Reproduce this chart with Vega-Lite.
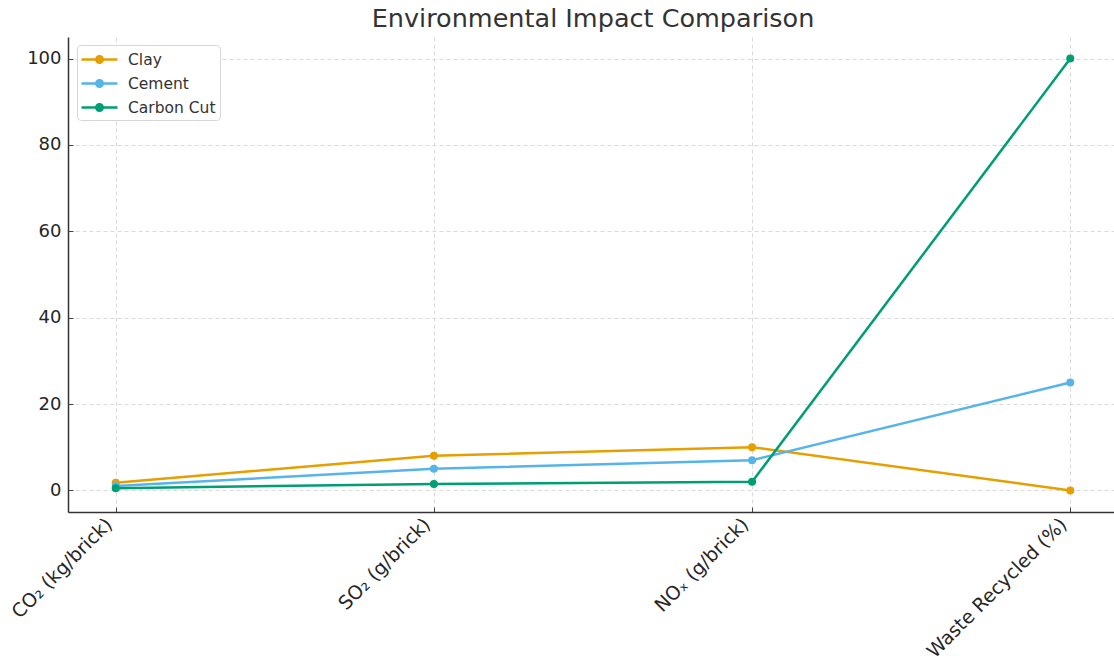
{
  "$schema": "https://vega.github.io/schema/vega-lite/v6.json",
  "width": 1050,
  "height": 475,
  "autosize": {"type": "none"},
  "padding": {"left": 68, "top": 37, "right": 0, "bottom": 154},
  "background": "white",
  "title": {
    "text": "Environmental Impact Comparison",
    "font": "DejaVu Sans",
    "fontSize": 25.5,
    "fontWeight": "normal",
    "color": "#333333",
    "offset": 5,
    "anchor": "middle"
  },
  "data": {
    "values": [
      {"metric": "CO₂ (kg/brick)", "material": "Clay", "value": 1.8},
      {"metric": "SO₂ (g/brick)", "material": "Clay", "value": 8},
      {"metric": "NOₓ (g/brick)", "material": "Clay", "value": 10},
      {"metric": "Waste Recycled (%)", "material": "Clay", "value": 0},
      {"metric": "CO₂ (kg/brick)", "material": "Cement", "value": 1.0},
      {"metric": "SO₂ (g/brick)", "material": "Cement", "value": 5},
      {"metric": "NOₓ (g/brick)", "material": "Cement", "value": 7},
      {"metric": "Waste Recycled (%)", "material": "Cement", "value": 25},
      {"metric": "CO₂ (kg/brick)", "material": "Carbon Cut", "value": 0.5},
      {"metric": "SO₂ (g/brick)", "material": "Carbon Cut", "value": 1.5},
      {"metric": "NOₓ (g/brick)", "material": "Carbon Cut", "value": 2},
      {"metric": "Waste Recycled (%)", "material": "Carbon Cut", "value": 100}
    ]
  },
  "config": {
    "view": {"stroke": null},
    "axis": {
      "labelFont": "DejaVu Sans",
      "labelFontSize": 18,
      "labelColor": "#262626",
      "labelLimit": 400,
      "domainColor": "#333333",
      "domainWidth": 1.5,
      "tickColor": "#444444",
      "tickSize": -5,
      "tickWidth": 1,
      "gridColor": "#d0d0d0",
      "gridDash": [4, 3],
      "gridWidth": 0.8,
      "title": null
    }
  },
  "encoding": {
    "x": {
      "field": "metric",
      "type": "ordinal",
      "sort": ["CO₂ (kg/brick)", "SO₂ (g/brick)", "NOₓ (g/brick)", "Waste Recycled (%)"],
      "scale": {"type": "point", "padding": 0.15},
      "axis": {"labelAngle": -45, "labelAlign": "right", "labelBaseline": "bottom", "labelPadding": 21, "labelFontSize": 19, "grid": true}
    },
    "y": {
      "field": "value",
      "type": "quantitative",
      "scale": {"domain": [-5, 105], "nice": false, "zero": false},
      "axis": {"values": [0, 20, 40, 60, 80, 100], "labelPadding": 12, "grid": true}
    },
    "color": {
      "field": "material",
      "type": "nominal",
      "sort": ["Clay", "Cement", "Carbon Cut"],
      "scale": {"domain": ["Clay", "Cement", "Carbon Cut"], "range": ["#E69F00", "#56B4E9", "#009E73"]},
      "legend": {
        "title": null,
        "orient": "none",
        "legendX": 9,
        "legendY": 8,
        "padding": 4,
        "fillColor": "white",
        "strokeColor": "#d6d6d6",
        "cornerRadius": 4,
        "labelFont": "DejaVu Sans",
        "labelFontSize": 15.5,
        "labelColor": "#333333",
        "rowPadding": 5,
        "symbolSize": 324,
        "symbolStrokeWidth": 2.5,
        "symbolOffset": 8,
        "symbolType": "M-2,0H2M-0.36,0A0.36,0.36 0 1,1 0.36,0A0.36,0.36 0 1,1 -0.36,0Z",
        "labelOffset": 18
      }
    }
  },
  "layer": [
    {"mark": {"type": "line", "strokeWidth": 2.5}},
    {"mark": {"type": "point", "filled": true, "size": 64, "opacity": 1}}
  ]
}
